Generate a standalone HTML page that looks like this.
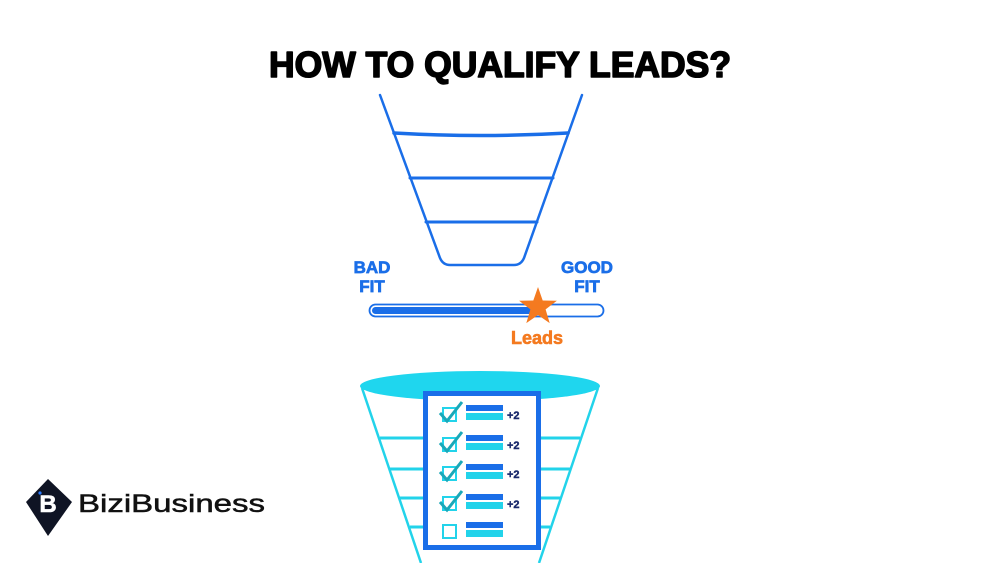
<!DOCTYPE html>
<html><head><meta charset="utf-8"><style>
html,body{margin:0;padding:0;background:#fff;width:1000px;height:563px;overflow:hidden}
svg{display:block}
text{font-family:"Liberation Sans",sans-serif;font-weight:bold}
</style></head><body>
<svg width="1000" height="563" viewBox="0 0 1000 563" xmlns="http://www.w3.org/2000/svg">
<text x="500" y="77" font-size="36" text-anchor="middle" textLength="462" lengthAdjust="spacingAndGlyphs" fill="#000" stroke="#000" stroke-width="1.6" stroke-linejoin="round">HOW TO QUALIFY LEADS?</text>
<!-- top funnel -->
<g stroke="#1a6ee8" stroke-width="2.5" fill="none" stroke-linecap="round">
<path d="M380 95 L440 258 Q443 265 450 265 L514 265 Q521 265 524 258 L582 95"/>
<path d="M394 133 Q481 138 568 133" stroke-width="3.5"/>
<line x1="410" y1="178" x2="553" y2="178" stroke-width="3"/>
<line x1="426" y1="222" x2="537" y2="222" stroke-width="3"/>
</g>
<g font-size="17" fill="#1a6ee8" stroke="#1a6ee8" stroke-width="0.7" text-anchor="middle">
<text x="372" y="273">BAD</text>
<text x="372" y="292">FIT</text>
<text x="587" y="273">GOOD</text>
<text x="587" y="292">FIT</text>
</g>
<rect x="369.5" y="304.5" width="234" height="12" rx="6" fill="#fff" stroke="#1a6ee8" stroke-width="1.8"/>
<rect x="372" y="307" width="165" height="7" rx="3.5" fill="#1a6ee8"/>
<polygon fill="#f47a20" points="538,287 542.7,300.5 556.9,300.8 545.6,309.4 549.7,323.1 538,315 526.3,323.1 530.4,309.4 519.1,300.8 533.3,300.5"/>
<text x="537" y="344" font-size="18" fill="#f47a20" stroke="#f47a20" stroke-width="0.6" text-anchor="middle">Leads</text>
<!-- bottom funnel -->
<g stroke="#22d3ea" stroke-width="2.5" fill="none">
<line x1="362" y1="388" x2="421" y2="563"/>
<line x1="598" y1="388" x2="539" y2="563"/>
<line x1="380" y1="438" x2="580" y2="438" stroke-width="3"/>
<line x1="390" y1="469" x2="570" y2="469" stroke-width="3"/>
<line x1="400" y1="498" x2="560" y2="498" stroke-width="3"/>
<line x1="410" y1="527" x2="550" y2="527" stroke-width="3"/>
</g>
<ellipse cx="480" cy="386" rx="120" ry="15" fill="#1fd6ee"/>
<rect x="425.5" y="393.5" width="113" height="154" fill="#fff" stroke="#1a6ee8" stroke-width="5"/>
<g>
<g transform="translate(0,0)">
<rect x="443" y="408" width="13" height="13" fill="none" stroke="#22d3ea" stroke-width="2"/>
<path d="M440 413 L447 421 L462 402" stroke="#1aa8b8" stroke-width="3" fill="none"/>
<rect x="466" y="405" width="37" height="6" fill="#1a6ee8"/><rect x="466" y="413" width="37" height="7" fill="#22d3ea"/>
<text x="507" y="419" font-size="11" fill="#1a2a6c" stroke="#1a2a6c" stroke-width="0.4">+2</text>
</g>
<g transform="translate(0,30)">
<rect x="443" y="408" width="13" height="13" fill="none" stroke="#22d3ea" stroke-width="2"/>
<path d="M440 413 L447 421 L462 402" stroke="#1aa8b8" stroke-width="3" fill="none"/>
<rect x="466" y="405" width="37" height="6" fill="#1a6ee8"/><rect x="466" y="413" width="37" height="7" fill="#22d3ea"/>
<text x="507" y="419" font-size="11" fill="#1a2a6c" stroke="#1a2a6c" stroke-width="0.4">+2</text>
</g>
<g transform="translate(0,59)">
<rect x="443" y="408" width="13" height="13" fill="none" stroke="#22d3ea" stroke-width="2"/>
<path d="M440 413 L447 421 L462 402" stroke="#1aa8b8" stroke-width="3" fill="none"/>
<rect x="466" y="405" width="37" height="6" fill="#1a6ee8"/><rect x="466" y="413" width="37" height="7" fill="#22d3ea"/>
<text x="507" y="419" font-size="11" fill="#1a2a6c" stroke="#1a2a6c" stroke-width="0.4">+2</text>
</g>
<g transform="translate(0,89)">
<rect x="443" y="408" width="13" height="13" fill="none" stroke="#22d3ea" stroke-width="2"/>
<path d="M440 413 L447 421 L462 402" stroke="#1aa8b8" stroke-width="3" fill="none"/>
<rect x="466" y="405" width="37" height="6" fill="#1a6ee8"/><rect x="466" y="413" width="37" height="7" fill="#22d3ea"/>
<text x="507" y="419" font-size="11" fill="#1a2a6c" stroke="#1a2a6c" stroke-width="0.4">+2</text>
</g>
<g transform="translate(0,117)">
<rect x="443" y="408" width="13" height="13" fill="none" stroke="#22d3ea" stroke-width="2"/>
<rect x="466" y="405" width="37" height="6" fill="#1a6ee8"/><rect x="466" y="413" width="37" height="7" fill="#22d3ea"/>
</g>
</g>
<!-- logo -->
<polygon points="48,479 72,502 48,536 26,502" fill="#0f1424"/>
<text x="48" y="512" font-size="24" fill="#fff" stroke="#fff" stroke-width="0.6" text-anchor="middle">B</text>
<circle cx="40" cy="493" r="1.6" fill="#2a7bff"/>
<text x="78" y="512" font-size="25" style="font-weight:normal" fill="#111" stroke="#111" stroke-width="0.5" textLength="187" lengthAdjust="spacingAndGlyphs">BiziBusiness</text>
</svg>
</body></html>
